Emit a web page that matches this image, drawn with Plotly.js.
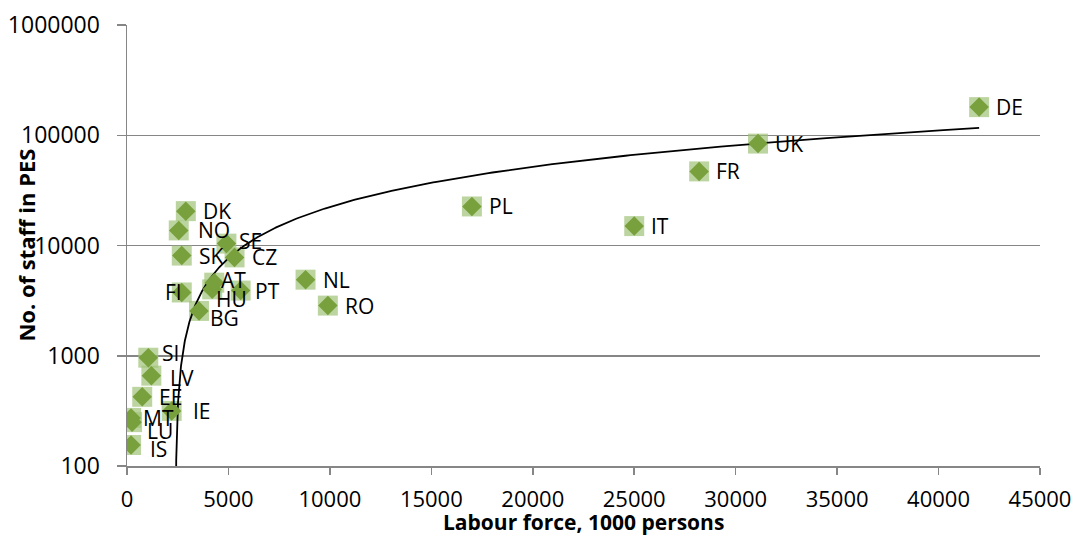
<!DOCTYPE html>
<html><head><meta charset="utf-8">
<script src="https://cdn.plot.ly/plotly-3.0.1.min.js"></script>
<style>html,body{margin:0;padding:0;background:#fff}#chart{width:1074px;height:539px}</style>
</head><body><div id="chart"></div>
<script>
// ---- data ----
const countries   = ['DE','UK','FR','IT','PL','RO','NL','CZ','PT','SE','HU','AT','BG','DK','FI','SK','NO','IE','LV','SI','EE','MT','LU','IS'];
const labourForce = [42000,31100,28200,25000,17000,9900,8800,5300,5600,4900,4200,4300,3550,2900,2700,2700,2550,2200,1200,1050,750,200,250,200];
const pesStaff    = [180000,84000,47000,15000,22600,2850,4900,7800,3900,10400,4000,4600,2550,20500,3750,8100,13700,316,660,960,424,273,250,155];
const xTickVals = [0,5000,10000,15000,20000,25000,30000,35000,40000,45000];
const xTickText = ['0','5000','10000','15000','20000','25000','30000','35000','40000','45000'];
const yTickVals = [100,1000,10000,100000,1000000];
const yTickText = ['100','1000','10000','100000','1000000'];
const xTitle = 'Labour force, 1000 persons';
const yTitle = 'No. of staff in PES';

// ---- label placement (style only: pixel nudges of the data labels) ----
const leftLabelled = ['FI'];
const labelNudge = { // [dx, dy] in screen px (dy positive = down)
  SE:[11,-3], AT:[5,-3], HU:[2,10], PT:[12,0], BG:[9,7], SI:[12,-5], MT:[10,0],
  LU:[13,9], IS:[17,4], IE:[19,0], NO:[17,0], LV:[17,2]
};
const defaultNudge = [15,0];

// ---- linear least-squares trendline (as in the spreadsheet) ----
const n = labourForce.length;
const mx = labourForce.reduce((a,b)=>a+b,0)/n;
const my = pesStaff.reduce((a,b)=>a+b,0)/n;
let sxy=0, sxx=0;
for (let i=0;i<n;i++){ sxy+=(labourForce[i]-mx)*(pesStaff[i]-my); sxx+=(labourForce[i]-mx)**2; }
const slope = sxy/sxx, intercept = my - slope*mx;
const xZero = -intercept/slope;
const xMax = Math.max(...labourForce);
const trendX=[], trendY=[];
for (let k=1;k<=400;k++){
  const t=k/400;
  const x = xZero + (xMax-xZero)*Math.pow(t,4);
  trendX.push(x); trendY.push(slope*x+intercept);
}

const font = '"Open Sans", Lato, sans-serif';
const squares = {
  x: labourForce, y: pesStaff, type:'scatter', mode:'markers', hoverinfo:'skip',
  marker:{symbol:'square', size:20, color:'rgba(160,195,120,0.7)', line:{width:0}}
};
const trend = {
  x: trendX, y: trendY, type:'scatter', mode:'lines', hoverinfo:'skip',
  line:{color:'#000', width:1.8}
};
const diamonds = {
  x: labourForce, y: pesStaff, type:'scatter', mode:'markers', hoverinfo:'skip',
  marker:{symbol:'diamond', size:15, color:'#78a03c', line:{width:0}}
};

const labels = countries.map((c,i)=>{
  const left = leftLabelled.includes(c);
  const nd = labelNudge[c] || defaultNudge;
  return {
    x: labourForce[i], y: Math.log10(pesStaff[i]), xref:'x', yref:'y',
    text: c, showarrow:false,
    xanchor: left ? 'right' : 'left', yanchor:'middle',
    xshift: left ? 2 : nd[0], yshift: left ? 0 : -nd[1],
    font:{family:font, size:21, color:'#000'}
  };
});
labels.push({
  xref:'paper', yref:'paper', x:0.5, y:-0.127, xanchor:'center', yanchor:'middle',
  text:'<b>'+xTitle+'</b>', showarrow:false, font:{family:font, size:21, color:'#000'}
});
labels.push({
  xref:'paper', yref:'paper', x:-0.1117, y:0.5, xanchor:'center', yanchor:'middle',
  text:'<b>'+yTitle+'</b>', textangle:-90, showarrow:false, font:{family:font, size:22, color:'#000'}
});

const layout = {
  width:1074, height:539,
  margin:{l:127, r:34, t:25, b:73},
  paper_bgcolor:'#fff', plot_bgcolor:'#fff',
  showlegend:false,
  font:{family:font, color:'#000'},
  annotations: labels,
  xaxis:{
    range:[0,45000], tickvals:xTickVals, ticktext:xTickText,
    showgrid:false, zeroline:false, showline:true, linecolor:'#868686', linewidth:1.5,
    ticks:'outside', ticklen:7, tickcolor:'#868686', tickwidth:1.5,
    ticklabelstandoff:6,
    tickfont:{family:font, size:22, color:'#000'}
  },
  yaxis:{
    type:'log', range:[2,6], tickvals:yTickVals, ticktext:yTickText,
    showgrid:true, gridcolor:'#868686', gridwidth:1.5,
    zeroline:false, showline:true, linecolor:'#868686', linewidth:1.5,
    ticks:'outside', ticklen:9, tickcolor:'#868686', tickwidth:1.5,
    ticklabelstandoff:12,
    tickfont:{family:font, size:23, color:'#000'}
  }
};
Plotly.newPlot('chart',[squares,trend,diamonds],layout,{displayModeBar:false, staticPlot:true});
</script>
</body></html>
